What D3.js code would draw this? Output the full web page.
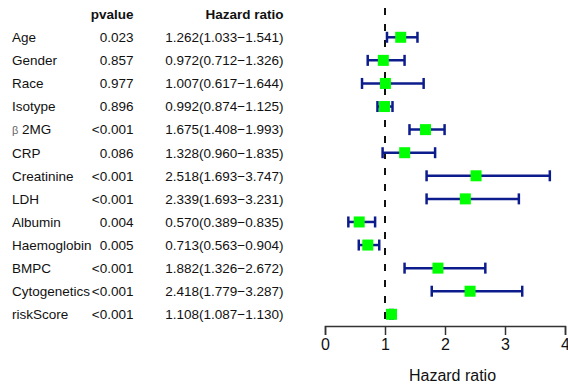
<!DOCTYPE html>
<html>
<head>
<meta charset="utf-8">
<script src="https://cdn.jsdelivr.net/npm/d3@7"></script>
<style>
  html, body { margin: 0; padding: 0; background: #fff; }
  svg { display: block; }
  text { font-family: "Liberation Sans", Arial, sans-serif; fill: #111; }
</style>
</head>
<body>
<div id="chart"></div>
<script>
// Multivariate Cox regression: hazard ratios with 95% confidence intervals
const variables = ["Age", "Gender", "Race", "Isotype", "β 2MG", "CRP", "Creatinine",
                   "LDH", "Albumin", "Haemoglobin", "BMPC", "Cytogenetics", "riskScore"];
const pvalues   = ["0.023", "0.857", "0.977", "0.896", "<0.001", "0.086", "<0.001",
                   "<0.001", "0.004", "0.005", "<0.001", "<0.001", "<0.001"];
const hazard    = [1.262, 0.972, 1.007, 0.992, 1.675, 1.328, 2.518, 2.339, 0.570, 0.713, 1.882, 2.418, 1.108];
const lowerCI   = [1.033, 0.712, 0.617, 0.874, 1.408, 0.960, 1.693, 1.693, 0.389, 0.563, 1.326, 1.779, 1.087];
const upperCI   = [1.541, 1.326, 1.644, 1.125, 1.993, 1.835, 3.747, 3.231, 0.835, 0.904, 2.672, 3.287, 1.130];
const xTicks    = [0, 1, 2, 3, 4];

const W = 568, H = 388;
const svg = d3.select("#chart").append("svg").attr("width", W).attr("height", H);

const rows = variables.map((v, i) => ({
  name: v, p: pvalues[i], hr: hazard[i], lo: lowerCI[i], hi: upperCI[i]
}));

const x = d3.scaleLinear().domain([0, 4]).range([325, 565]);
const y = d3.scalePoint().domain(d3.range(-1, rows.length)).range([14.2, 314.3]);

const fmt = d3.format(".3f");
const fs = 13.5;

// Column headers
svg.append("text").attr("x", 133.5).attr("y", y(-1)).attr("dy", "0.36em")
  .attr("text-anchor", "end").attr("font-weight", "bold").attr("font-size", fs).text("pvalue");
svg.append("text").attr("x", 283.5).attr("y", y(-1)).attr("dy", "0.36em")
  .attr("text-anchor", "end").attr("font-weight", "bold").attr("font-size", fs).text("Hazard ratio");

// Table rows
const tr = svg.append("g").selectAll("g").data(rows).join("g")
  .attr("transform", (d, i) => `translate(0,${y(i)})`);

tr.append("text").attr("x", 12).attr("dy", "0.36em").attr("font-size", fs)
  .each(function (d) {
    const t = d3.select(this);
    if (d.name.startsWith("β")) {
      t.append("tspan").attr("font-size", 11).style("fill", "#666").text("β");
      t.append("tspan").text(d.name.slice(1));
    } else {
      t.text(d.name);
    }
  });

tr.append("text").attr("x", 133.5).attr("dy", "0.36em").attr("text-anchor", "end")
  .attr("font-size", fs).text(d => d.p);

tr.append("text").attr("x", 283.5).attr("dy", "0.36em").attr("text-anchor", "end")
  .attr("font-size", fs).text(d => `${fmt(d.hr)}(${fmt(d.lo)}\u2212${fmt(d.hi)})`);

// Reference line at HR = 1
svg.append("line")
  .attr("x1", x(1)).attr("x2", x(1)).attr("y1", 8).attr("y2", 326)
  .attr("stroke", "#111").attr("stroke-width", 2).attr("stroke-dasharray", "7,9");

// Confidence intervals
const ci = svg.append("g").selectAll("g").data(rows).join("g")
  .attr("transform", (d, i) => `translate(0,${y(i)})`)
  .attr("stroke", "#0d1c8c").attr("stroke-width", 2.5).attr("fill", "none");

ci.append("line").attr("x1", d => x(d.lo)).attr("x2", d => x(d.hi)).attr("y1", 0).attr("y2", 0);
ci.append("line").attr("x1", d => x(d.lo)).attr("x2", d => x(d.lo)).attr("y1", -5.5).attr("y2", 5.5);
ci.append("line").attr("x1", d => x(d.hi)).attr("x2", d => x(d.hi)).attr("y1", -5.5).attr("y2", 5.5);

// Point estimates
const sq = 11;
svg.append("g").selectAll("rect").data(rows).join("rect")
  .attr("x", d => x(d.hr) - sq / 2)
  .attr("y", (d, i) => y(i) - sq / 2)
  .attr("width", sq).attr("height", sq)
  .attr("fill", "#00ff00");

// X axis
const axis = d3.axisBottom(x).tickValues(xTicks).tickSize(9).tickPadding(4).tickFormat(d3.format("d"));
const gx = svg.append("g").attr("transform", "translate(0,326)").call(axis);
gx.select(".domain").attr("stroke", "#333").attr("stroke-width", 1.5);
gx.selectAll(".tick line").attr("stroke", "#333").attr("stroke-width", 1.5);
gx.selectAll(".tick text").attr("font-size", 16).attr("font-family", "Liberation Sans, Arial, sans-serif")
  .style("fill", "#111");

svg.append("text").attr("x", 452.5).attr("y", 381).attr("text-anchor", "middle")
  .attr("font-size", 16).text("Hazard ratio");
</script>
</body>
</html>
